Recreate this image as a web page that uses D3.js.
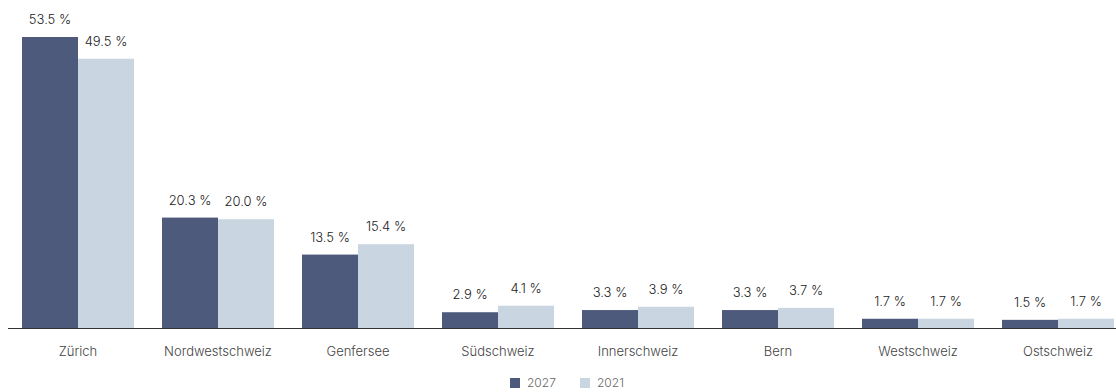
<!DOCTYPE html>
<html>
<head>
<meta charset="utf-8">
<script src="https://cdn.jsdelivr.net/npm/d3@7"></script>
<style>
  html, body { margin: 0; padding: 0; background: #ffffff; }
  svg { display: block; font-family: Inter, "Noto Sans", sans-serif; font-weight: 300; }
</style>
</head>
<body>
<svg id="chart" width="1116" height="392"></svg>
<script>
// Regions and their shares for each year
const regions = ["Zürich", "Nordwestschweiz", "Genfersee", "Südschweiz", "Innerschweiz", "Bern", "Westschweiz", "Ostschweiz"];
const years = ["2027", "2021"];
const values2027 = [53.5, 20.3, 13.5, 2.9, 3.3, 3.3, 1.7, 1.5];
const values2021 = [49.5, 20.0, 15.4, 4.1, 3.9, 3.7, 1.7, 1.7];
const colors = ["#4e5a7b", "#c9d5e0"];

const svg = d3.select("#chart");
const baseline = 328;

const x = d3.scaleBand().domain(regions).range([8, 1128]).paddingInner(0.2).paddingOuter(0.1);
const xInner = d3.scaleBand().domain(years).range([0, x.bandwidth()]);
const y = d3.scaleLinear().domain([0, 53.5]).range([baseline, 37]);
const color = d3.scaleOrdinal().domain(years).range(colors);

const rows = regions.map((r, i) => ({
  region: r,
  bars: [
    { year: "2027", value: values2027[i] },
    { year: "2021", value: values2021[i] }
  ]
}));

const groups = svg.append("g").selectAll("g")
  .data(rows)
  .join("g")
  .attr("transform", d => `translate(${x(d.region)},0)`);

groups.selectAll("rect")
  .data(d => d.bars)
  .join("rect")
  .attr("x", d => xInner(d.year))
  .attr("width", xInner.bandwidth())
  .attr("y", d => y(d.value))
  .attr("height", d => baseline - y(d.value))
  .attr("fill", d => color(d.year));

groups.selectAll("text.val")
  .data(d => d.bars)
  .join("text")
  .attr("class", "val")
  .attr("x", d => xInner(d.year) + xInner.bandwidth() / 2)
  .attr("y", d => y(d.value) - 13)
  .attr("text-anchor", "middle")
  .attr("font-size", 13)
  .attr("fill", "#222")
  .text(d => `${d.value.toFixed(1)} %`);

// Category axis
const axis = svg.append("g")
  .attr("transform", `translate(0,${baseline})`)
  .call(d3.axisBottom(x).tickSize(0).tickPadding(19));
axis.select(".domain").remove();
axis.selectAll("text")
  .attr("font-size", 13)
  .attr("font-family", "Inter, 'Noto Sans', sans-serif")
  .attr("font-weight", 300)
  .attr("fill", "#444");

svg.append("line")
  .attr("x1", 8).attr("x2", 1116)
  .attr("y1", baseline + 0.5).attr("y2", baseline + 0.5)
  .attr("stroke", "#333").attr("stroke-width", 1);

// Legend
const legend = svg.append("g").attr("transform", "translate(510,383)");
const item = legend.selectAll("g")
  .data(years)
  .join("g")
  .attr("transform", (d, i) => `translate(${i * 70},0)`);
item.append("rect")
  .attr("x", 0).attr("y", -5).attr("width", 10).attr("height", 10)
  .attr("fill", d => color(d));
item.append("text")
  .attr("x", 17).attr("y", 4)
  .attr("font-size", 12)
  .attr("fill", "#666")
  .text(d => d);
</script>
</body>
</html>
